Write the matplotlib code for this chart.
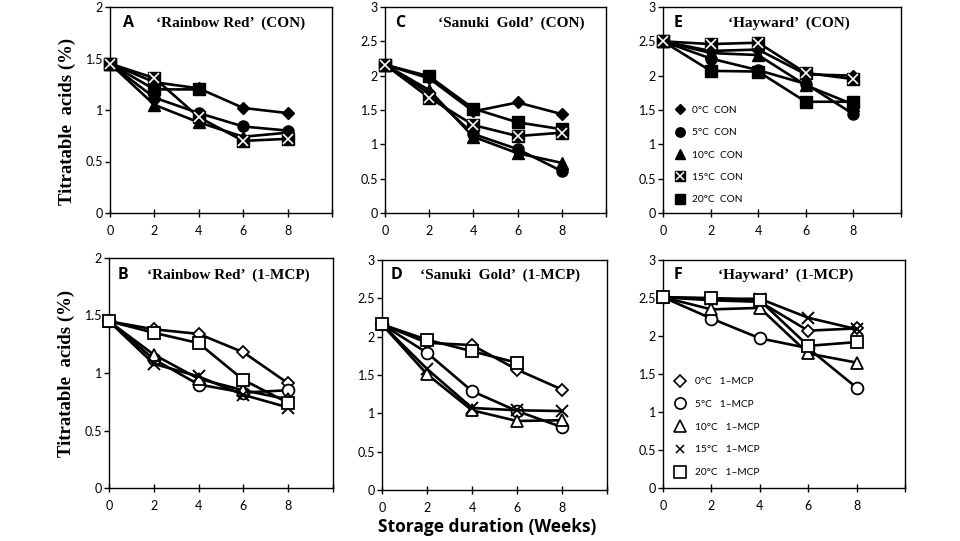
import matplotlib
matplotlib.use('Agg')
import matplotlib.pyplot as plt
from matplotlib.lines import Line2D
import numpy as np

nan = np.nan
weeks = [0, 2, 4, 6, 8]
temps = ['0°C', '5°C', '10°C', '15°C', '20°C']

# rows: 0, 5, 10, 15, 20 °C
rainbow_con = [[1.45, 1.27, 1.21, 1.02, 0.97],
               [1.45, 1.12, 0.97, 0.84, 0.80],
               [1.45, 1.05, 0.88, 0.74, 0.78],
               [1.45, 1.31, 0.93, 0.70, 0.72],
               [1.45, 1.20, 1.20, nan, nan]]
sanuki_con = [[2.16, 1.96, 1.48, 1.61, 1.44],
              [2.16, 1.74, 1.15, 0.93, 0.61],
              [2.16, 1.79, 1.11, 0.87, 0.73],
              [2.16, 1.68, 1.28, 1.12, 1.17],
              [2.16, 1.99, 1.52, 1.32, 1.22]]
hayward_con = [[2.50, 2.36, 2.38, 2.02, 2.00],
               [2.50, 2.25, 2.08, 1.88, 1.44],
               [2.50, 2.33, 2.30, 1.86, 1.58],
               [2.50, 2.46, 2.48, 2.04, 1.95],
               [2.50, 2.07, 2.06, 1.62, 1.62]]
rainbow_mcp = [[1.45, 1.38, 1.34, 1.18, 0.91],
               [1.45, 1.12, 0.90, 0.83, 0.85],
               [1.45, 1.16, 0.95, 0.85, 0.77],
               [1.45, 1.08, 0.97, 0.81, 0.70],
               [1.45, 1.35, 1.26, 0.94, 0.74]]
sanuki_mcp = [[2.16, 1.92, 1.89, 1.57, 1.31],
              [2.16, 1.79, 1.29, 1.03, 0.82],
              [2.16, 1.51, 1.04, 0.90, 0.91],
              [2.16, 1.58, 1.07, 1.04, 1.03],
              [2.16, 1.96, 1.81, 1.66, nan]]
hayward_mcp = [[2.51, 2.47, 2.45, 2.07, 2.10],
               [2.51, 2.23, 1.97, 1.84, 1.32],
               [2.51, 2.35, 2.37, 1.77, 1.65],
               [2.51, 2.49, 2.49, 2.24, 2.09],
               [2.51, 2.50, 2.47, 1.87, 1.92]]

W, H = 960, 541
fig = plt.figure(figsize=(W / 100, H / 100), dpi=100)
fig.patch.set_facecolor('white')

TICKFONT = 'Lato'
SERIF = 'Liberation Serif'

def rect(x0, x1, y0, y1):
    return [x0 / W, 1 - y1 / H, (x1 - x0) / W, (y1 - y0) / H]

panels = [
    (rect(110, 332, 7, 213), rainbow_con, 2, 'A', '‘Rainbow Red’  (CON)', 'con', (123, 23), (156, 23)),
    (rect(385, 606, 7, 213), sanuki_con, 3, 'C', '‘Sanuki  Gold’  (CON)', 'con', (395, 23), (438, 23)),
    (rect(663, 901, 7, 213), hayward_con, 3, 'E', '‘Hayward’  (CON)', 'con', (674, 23), (728, 23)),
    (rect(109, 333, 258, 488), rainbow_mcp, 2, 'B', '‘Rainbow Red’  (1-MCP)', 'mcp', (118, 275), (147, 275)),
    (rect(382, 607, 260, 490), sanuki_mcp, 3, 'D', '‘Sanuki  Gold’  (1-MCP)', 'mcp', (391, 275), (420, 275)),
    (rect(663, 905, 260, 488), hayward_mcp, 3, 'F', '‘Hayward’  (1-MCP)', 'mcp', (674, 275), (718, 275)),
]

con_markers = ['D', 'o', '^', 's', 's']
con_sizes = [6.5, 8, 8, 8.5, 8]
mcp_markers = ['D', 'o', '^', 'x', 's']
mcp_sizes = [6.5, 8.5, 8.5, 8.5, 8.5]
LW = 1.9

for (r, data, ymax, letter, title, kind, lpos, tpos) in panels:
    ax = fig.add_axes(r)
    ax.set_facecolor('white')
    handles = []
    for i, vals in enumerate(data):
        y = np.array(vals, dtype=float)
        if kind == 'con':
            ax.plot(weeks, y, color='black', lw=LW, marker=con_markers[i],
                    ms=con_sizes[i], mfc='black', mec='black', zorder=3, clip_on=False)
            h = Line2D([], [], ls='none', marker=con_markers[i], ms=con_sizes[i] * 0.85,
                       mfc='black', mec='black')
            if i == 3:
                ax.plot(weeks, y, ls='none', marker='x', ms=con_sizes[i] * 0.8,
                        mec='white', mew=1.2, zorder=4, clip_on=False)
                hx = Line2D([], [], ls='none', marker='x', ms=con_sizes[i] * 0.65,
                            mec='white', mew=1.1)
                h = (h, hx)
            handles.append(h)
        else:
            if mcp_markers[i] == 'x':
                ax.plot(weeks, y, color='black', lw=LW, marker='x', ms=mcp_sizes[i],
                        mec='black', mew=1.4, zorder=3, clip_on=False)
                h = Line2D([], [], ls='none', marker='x', ms=mcp_sizes[i] * 0.75,
                           mec='black', mew=1.1)
            else:
                ax.plot(weeks, y, color='black', lw=LW, marker=mcp_markers[i],
                        ms=mcp_sizes[i], mfc='white', mec='black', mew=1.3, zorder=3,
                        clip_on=False)
                h = Line2D([], [], ls='none', marker=mcp_markers[i], ms=mcp_sizes[i] * 0.95,
                           mfc='white', mec='black', mew=1.2)
            handles.append(h)

    ax.set_xlim(0, 10)
    ax.set_ylim(0, ymax)
    ax.set_xticks([0, 2, 4, 6, 8, 10])
    ax.set_xticklabels(['0', '2', '4', '6', '8', ''], fontfamily=TICKFONT, fontsize=9)
    yt = np.arange(0, ymax + 0.01, 0.5)
    ax.set_yticks(yt)
    ax.set_yticklabels([('%g' % v) for v in yt], fontfamily=TICKFONT, fontsize=9)
    ax.tick_params(axis='x', direction='inout', length=6, width=1, pad=5.5, colors='black')
    ax.tick_params(axis='y', direction='out', length=3.5, width=1, pad=1.5, colors='black')
    for s in ax.spines.values():
        s.set_linewidth(1.0)
        s.set_color('black')
        s.set_zorder(2)

    fig.text(lpos[0] / W, 1 - lpos[1] / H, letter, fontfamily='Open Sans',
             fontweight='bold', fontsize=11.5, ha='left', va='center')
    fig.text(tpos[0] / W, 1 - tpos[1] / H, title, fontfamily=SERIF,
             fontweight='bold', fontsize=11, ha='left', va='center')

    if letter == 'E':
        labels = [t + '  CON' for t in temps]
        ax.legend(handles, labels, loc='upper left', bbox_to_anchor=(0.045, 0.52),
                  frameon=False, labelspacing=1.3, handlelength=1.2,
                  handletextpad=0.6, borderpad=0, borderaxespad=0,
                  prop={'family': TICKFONT, 'size': 7.3})
    if letter == 'F':
        labels = [t + '   1–MCP' for t in temps]
        ax.legend(handles, labels, loc='upper left', bbox_to_anchor=(0.045, 0.487),
                  frameon=False, labelspacing=1.35, handlelength=1.2,
                  handletextpad=0.9, borderpad=0, borderaxespad=0,
                  prop={'family': TICKFONT, 'size': 7.3})

fig.text(67 / W, 1 - 121 / H, 'Titratable  acids (%)', rotation=90, fontfamily=SERIF,
         fontweight='bold', fontsize=13.5, ha='center', va='center')
fig.text(66 / W, 1 - 373 / H, 'Titratable  acids (%)', rotation=90, fontfamily=SERIF,
         fontweight='bold', fontsize=13.5, ha='center', va='center')
fig.text(487 / W, 1 - 527 / H, 'Storage duration (Weeks)', fontfamily='Open Sans',
         fontweight='bold', fontsize=12.5, ha='center', va='center')

fig.savefig('out.png', dpi=100, facecolor='white')
